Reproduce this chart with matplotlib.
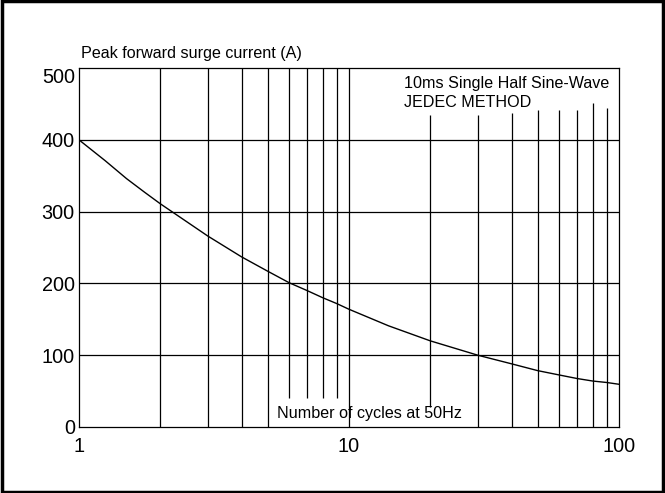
import matplotlib.pyplot as plt
from matplotlib.patches import Rectangle

plt.rcParams['font.family'] = ['Liberation Sans', 'DejaVu Sans']

# surge curve
cycles = [1, 1.25, 1.5, 1.75, 2, 3, 4, 5, 6, 7, 8, 9, 10, 14, 20, 30, 40, 50, 60, 70, 80, 90, 100]
current = [400, 371, 346, 327, 311, 266, 237, 217, 201, 190, 180, 172, 164, 141, 120, 100,
           88, 78.5, 72.5, 67.5, 64, 62, 59.5]

y_ticks = [0, 100, 200, 300, 400, 500]
x_ticks = [1, 10, 100]
x_tick_labels = ['1', '10', '100']

# vertical grid lines: (x, from, to) in data units, some are cut short around the labels
grid_x = [2, 3, 4, 5, 6, 7, 8, 9, 10, 20, 30, 40, 50, 60, 70, 80, 90]
grid_lo = [0, 0, 0, 0, 40, 40, 40, 40, 0, 28, 0, 0, 0, 0, 0, 0, 0]
grid_hi = [500, 500, 500, 500, 500, 500, 500, 500, 500, 435, 435, 438, 441, 441, 441, 451, 444]

fig = plt.figure(figsize=(6.65, 4.93), dpi=100)
ax = fig.add_axes([0.1188, 0.1339, 0.812, 0.728])

ax.set_xscale('log')
ax.set_xlim(1, 100)
ax.set_ylim(0, 500)

for y in y_ticks[1:-1]:
    ax.axhline(y, color='black', lw=0.9, zorder=1)
ax.vlines(grid_x, grid_lo, grid_hi, color='black', lw=0.9, zorder=1)

ax.plot(cycles, current, color='black', lw=1.0, zorder=2)

ax.set_xticks(x_ticks)
ax.set_xticklabels(x_tick_labels)
ax.xaxis.set_minor_locator(plt.NullLocator())
ax.set_yticks(y_ticks)
ax.tick_params(length=0, labelsize=14.3)
ax.tick_params(axis='x', pad=7)
ax.tick_params(axis='y', pad=3)
ylabels = ax.get_yticklabels()
ylabels[-1].set_va('top')

for s in ax.spines.values():
    s.set_linewidth(0.9)

ax.text(0.003, 1.028, 'Peak forward surge current (A)', transform=ax.transAxes,
        fontsize=11.6, ha='left', va='baseline')
ax.text(0.602, 0.944, '10ms Single Half Sine-Wave', transform=ax.transAxes,
        fontsize=11.6, ha='left', va='baseline')
ax.text(0.602, 0.891, 'JEDEC METHOD', transform=ax.transAxes,
        fontsize=11.6, ha='left', va='baseline')
ax.text(0.367, 0.025, 'Number of cycles at 50Hz', transform=ax.transAxes,
        fontsize=11.6, ha='left', va='baseline')

fig.patches.append(Rectangle((0.003, 0.003), 0.994, 0.994, transform=fig.transFigure,
                             fill=False, edgecolor='black', lw=2.5))

fig.savefig('out.png', dpi=100)
